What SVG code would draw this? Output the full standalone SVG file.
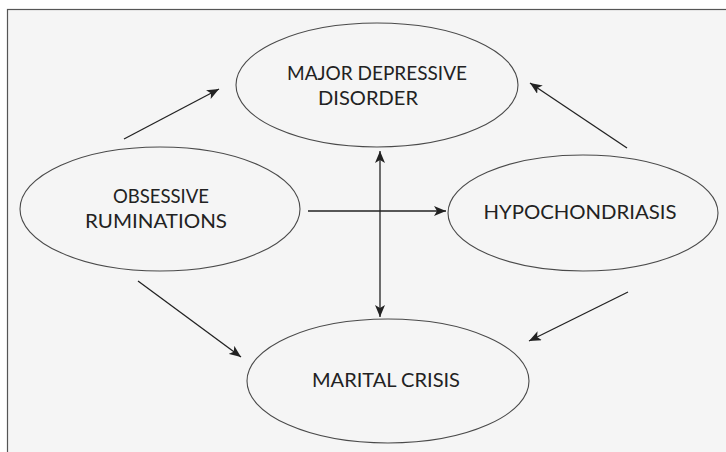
<svg xmlns="http://www.w3.org/2000/svg" width="726" height="452" viewBox="0 0 726 452">
  <style>
    .node ellipse { fill: none; stroke: #4a4a4a; stroke-width: 1.1; }
    .node text { font-family: Lato, "Liberation Sans", sans-serif; font-size: 19px; fill: #222; text-anchor: middle; }
    .edge { stroke: #222; stroke-width: 1.3; fill: none; marker-end: url(#ah); }
    .edge.both { marker-start: url(#ahs); }
  </style>
  <defs>
    <marker id="ah" viewBox="0 0 12 10" refX="12" refY="5" markerWidth="12" markerHeight="10" markerUnits="userSpaceOnUse" orient="auto">
      <path d="M0,0 L12,5 L0,10 L3,5 Z" fill="#222"/>
    </marker>
    <marker id="ahs" viewBox="0 0 12 10" refX="0" refY="5" markerWidth="12" markerHeight="10" markerUnits="userSpaceOnUse" orient="auto">
      <path d="M12,0 L0,5 L12,10 L9,5 Z" fill="#222"/>
    </marker>
  </defs>
  <rect x="0" y="0" width="726" height="452" fill="#ffffff"/>
  <rect x="7.5" y="9.5" width="730" height="460" fill="#f5f5f5" stroke="#555" stroke-width="1.2"/>

  <g id="connectors">
    <line class="edge" x1="124" y1="139" x2="219" y2="89"/>
    <line class="edge" x1="627" y1="148" x2="530" y2="83"/>
    <line class="edge" x1="308" y1="211" x2="446" y2="211"/>
    <line class="edge both" x1="380" y1="151" x2="380" y2="317"/>
    <line class="edge" x1="138" y1="281" x2="241" y2="357"/>
    <line class="edge" x1="628" y1="292" x2="529" y2="341"/>
  </g>

  <g id="node-mdd" class="node">
    <ellipse cx="377" cy="85" rx="141" ry="62"/>
    <text x="377" y="80" textLength="180" lengthAdjust="spacingAndGlyphs">MAJOR DEPRESSIVE</text>
    <text x="368" y="105" textLength="100" lengthAdjust="spacingAndGlyphs">DISORDER</text>
  </g>
  <g id="node-obsessive" class="node">
    <ellipse cx="160" cy="209" rx="140" ry="62"/>
    <text x="161" y="203" textLength="96" lengthAdjust="spacingAndGlyphs">OBSESSIVE</text>
    <text x="156" y="228" textLength="142" lengthAdjust="spacingAndGlyphs">RUMINATIONS</text>
  </g>
  <g id="node-hypo" class="node">
    <ellipse cx="583" cy="213" rx="135" ry="58"/>
    <text x="580" y="219" textLength="193" lengthAdjust="spacingAndGlyphs">HYPOCHONDRIASIS</text>
  </g>
  <g id="node-marital" class="node">
    <ellipse cx="388" cy="381" rx="141" ry="62"/>
    <text x="386" y="387" textLength="148" lengthAdjust="spacingAndGlyphs">MARITAL CRISIS</text>
  </g>
</svg>
